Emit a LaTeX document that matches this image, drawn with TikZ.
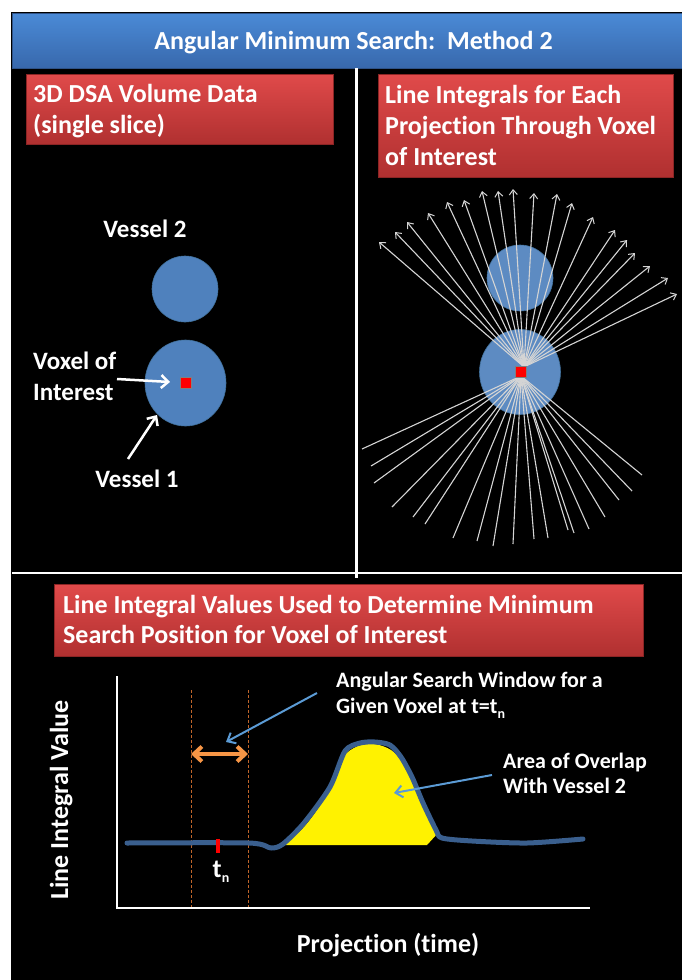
\documentclass[tikz,border=0pt]{standalone}
\usepackage{fontspec}
\setmainfont{Carlito}[Ligatures={NoCommon}]
\usetikzlibrary{arrows.meta,shapes.geometric}
\definecolor{vblue}{HTML}{4F81BD}
\definecolor{vblueedge}{HTML}{41719C}
\definecolor{titletop}{HTML}{4A8AD6}
\definecolor{titlebot}{HTML}{3868AC}
\definecolor{titleedge}{HTML}{2E5288}
\definecolor{redtop}{HTML}{E04A4A}
\definecolor{redbot}{HTML}{B03030}
\definecolor{rededge}{HTML}{8C2525}
\definecolor{curveblue}{HTML}{3A5F8E}
\definecolor{winorange}{HTML}{F79646}
\definecolor{dashorange}{HTML}{C0652A}
\definecolor{pointblue}{HTML}{5B9BD5}
\definecolor{raygray}{HTML}{D4D4D4}
\newcommand\subn{{\fontsize{14}{14}\selectfont\raisebox{-5pt}{n}}}
\begin{document}
\begin{tikzpicture}[x=1pt,y=-1pt,
  titlebar/.style={rectangle, draw=titleedge, line width=0.8pt, top color=titletop, bottom color=titlebot, anchor=north west, inner sep=0pt},
  redbox/.style={rectangle, draw=rededge, line width=0.6pt, top color=redtop, bottom color=redbot, anchor=north west, inner sep=0pt},
  bigtext/.style={text=white, font=\fontsize{26}{31}\selectfont\bfseries, inner sep=0pt, align=left},
  labeltext/.style={text=white, font=\fontsize{25}{31}\selectfont\bfseries, inner sep=0pt, align=left},
  notetext/.style={text=white, font=\fontsize{22}{26}\selectfont\bfseries, inner sep=0pt, align=left},
  vessel/.style={fill=vblue, draw=vblueedge, line width=0.6pt, inner sep=0pt},
  voxel/.style={rectangle, fill=red, draw=gray, line width=0.5pt, minimum size=11pt, inner sep=0pt},
  divider/.style={draw=white, line width=2.5pt},
  whitearrow/.style={draw=white, line width=2.5pt, -{Straight Barb[length=7pt,width=13pt]}},
  ray/.style={draw=raygray, line width=1.1pt},
  rayarrow/.style={ray, -{Straight Barb[length=5pt,width=8pt,line width=1pt]}},
  axis/.style={draw=white, line width=2.5pt},
  window/.style={draw=dashorange, line width=1pt, dash pattern=on 3pt off 2pt},
  winarrow/.style={draw=winorange, line width=4pt, {Straight Barb[length=8pt,width=15pt]}-{Straight Barb[length=8pt,width=15pt]}},
  pointer/.style={draw=pointblue, line width=2pt, -{Straight Barb[length=7pt,width=12pt]}},
  curve/.style={draw=curveblue, line width=5pt, line join=round, line cap=round}
]
\useasboundingbox (0,0) rectangle (682,980);
\fill[white] (0,0) rectangle (682,980);
\fill[black] (11,12) rectangle (682,980);

% title
\node[titlebar, minimum width=670pt, minimum height=55pt] (titlebar) at (12,13) {};
\node[text=white, font=\fontsize{26}{31}\selectfont\bfseries, inner sep=0pt, anchor=base] (title) at (353.5,49) {Angular Minimum Search:\ \ Method 2};

% dividers
\coordinate (vtop) at (356.5,68);
\coordinate (vbot) at (356.5,578);
\coordinate (hleft) at (12,573);
\coordinate (hright) at (682,573);
\draw[divider] (vtop) -- (vbot);
\draw[divider] (hleft) -- (hright);

% red headers (base anchor = baseline of the last line)
\node[redbox, minimum width=307pt, minimum height=70pt] (box1) at (26,74) {};
\node[bigtext, anchor=base west] (box1text) at (33,133) {3D DSA Volume Data\\(single slice)};
\node[redbox, minimum width=295pt, minimum height=103pt] (box2) at (378,74) {};
\node[bigtext, anchor=base west] (box2text) at (385,165) {Line Integrals for Each\\Projection Through Voxel\\of Interest};
\node[redbox, minimum width=589pt, minimum height=72pt] (box3) at (54,584) {};
\node[bigtext, font=\fontsize{26}{30}\selectfont\bfseries, anchor=base west] (box3text) at (63,643) {Line Integral Values Used to Determine Minimum\\Search Position for Voxel of Interest};

% left panel
\node[labeltext, anchor=base] (v2label) at (145,237) {Vessel 2};
\node[vessel, circle, minimum size=66pt] (v2L) at (185,289) {};
\node[vessel, ellipse, minimum width=81pt, minimum height=86pt] (v1L) at (185.5,383) {};
\node[voxel] (voxL) at (185.5,382.5) {};
\node[labeltext, anchor=base west] (voxlabel) at (33,400) {Voxel of\\Interest};
\node[labeltext, anchor=base] (v1label) at (137,487) {Vessel 1};
\coordinate (voxA) at (117,379);
\coordinate (voxB) at (170,382);
\coordinate (v1A) at (128,459);
\coordinate (v1B) at (157,415);
\draw[whitearrow] (voxA) -- (voxB);
\draw[whitearrow] (v1A) -- (v1B);

% right panel
\node[vessel, circle, minimum size=66pt, fill=vblue!92!white] (v2R) at (520,278) {};
\node[vessel, ellipse, minimum width=81pt, minimum height=85pt, fill=vblue!92!white] (v1R) at (520,372) {};
\coordinate (rayup) at (524,367);
\coordinate (raydown) at (521,376);
\foreach \px/\py [count=\i] in {379/242,395/232,407/222,428/213,447/202,464/200,482/191,498/191,513/189,534/193,557/194,572/203,593/217,615/230,627/240,635/253,650/266,668/278,677/294}{
  \coordinate (u\i) at (\px,\py);
  \draw[rayarrow] (rayup) -- (u\i);
}
\foreach \px/\py [count=\i] in {362/449,371/466,374/483,392/507,413/517,425/524,453/538,477/541,493/546,513/544,534/539,548/538,568/530,574/533,589/529,605/517,619/500,632/491,642/475}{
  \coordinate (d\i) at (\px,\py);
  \draw[ray] (raydown) -- (d\i);
}
\node[voxel] (voxR) at (521,372) {};

% chart
\coordinate (ytop) at (117,677);
\coordinate (origin) at (117,908);
\coordinate (xend) at (589,908);
\coordinate (w1top) at (191,690);
\coordinate (w1bot) at (191,908);
\coordinate (w2top) at (248,690);
\coordinate (w2bot) at (248,908);
\draw[window] (w1top) -- (w1bot);
\draw[window] (w2top) -- (w2bot);

\fill[yellow] (427,845) -- (278,845) -- plot[smooth, tension=0.5] coordinates {(278,845) (300,831) (317,810) (331,785) (343,757) (358,746) (375,744) (391,750) (402,762) (412,782) (424,807) (438,833)} -- cycle;
\draw[curve] plot[smooth, tension=0.45] coordinates {(127,843) (249,843) (271,848) (283,844) (304,823) (330,787) (345,751) (360,743) (375,742) (390,745) (401,757) (412,777) (423,803) (436,830) (442,838) (472,841) (527,843) (583,839)};

\coordinate (tnA) at (218,839);
\coordinate (tnB) at (218,853);
\draw[red, line width=3.5pt] (tnA) -- (tnB);
\node[text=white, font=\fontsize{26}{31}\selectfont\bfseries, inner sep=0pt, anchor=base] (tnlabel) at (221,877) {t\subn};

\draw[axis, line cap=rect] (ytop) |- (xend);

\coordinate (wl) at (191,754);
\coordinate (wr) at (248,754);
\draw[winarrow] (wl) -- (wr);

\node[notetext, anchor=base west] (winlabel) at (336,713) {Angular Search Window for a\\Given Voxel at t=t\subn};
\coordinate (p1A) at (317,693);
\coordinate (p1B) at (226,742);
\draw[pointer] (p1A) -- (p1B);

\node[notetext, anchor=base west, font=\fontsize{22}{25}\selectfont\bfseries] (overlaplabel) at (503,793) {Area of Overlap\\With Vessel 2};
\coordinate (p2A) at (492,775);
\coordinate (p2B) at (394,793);
\draw[pointer] (p2A) -- (p2B);

\node[text=white, font=\fontsize{26}{31}\selectfont\bfseries, inner sep=0pt, anchor=base, rotate=90] (ylabel) at (68,800) {Line Integral Value};
\node[text=white, font=\fontsize{26}{31}\selectfont\bfseries, inner sep=0pt, anchor=base] (xlabel) at (388,952) {Projection (time)};
\end{tikzpicture}
\end{document}
